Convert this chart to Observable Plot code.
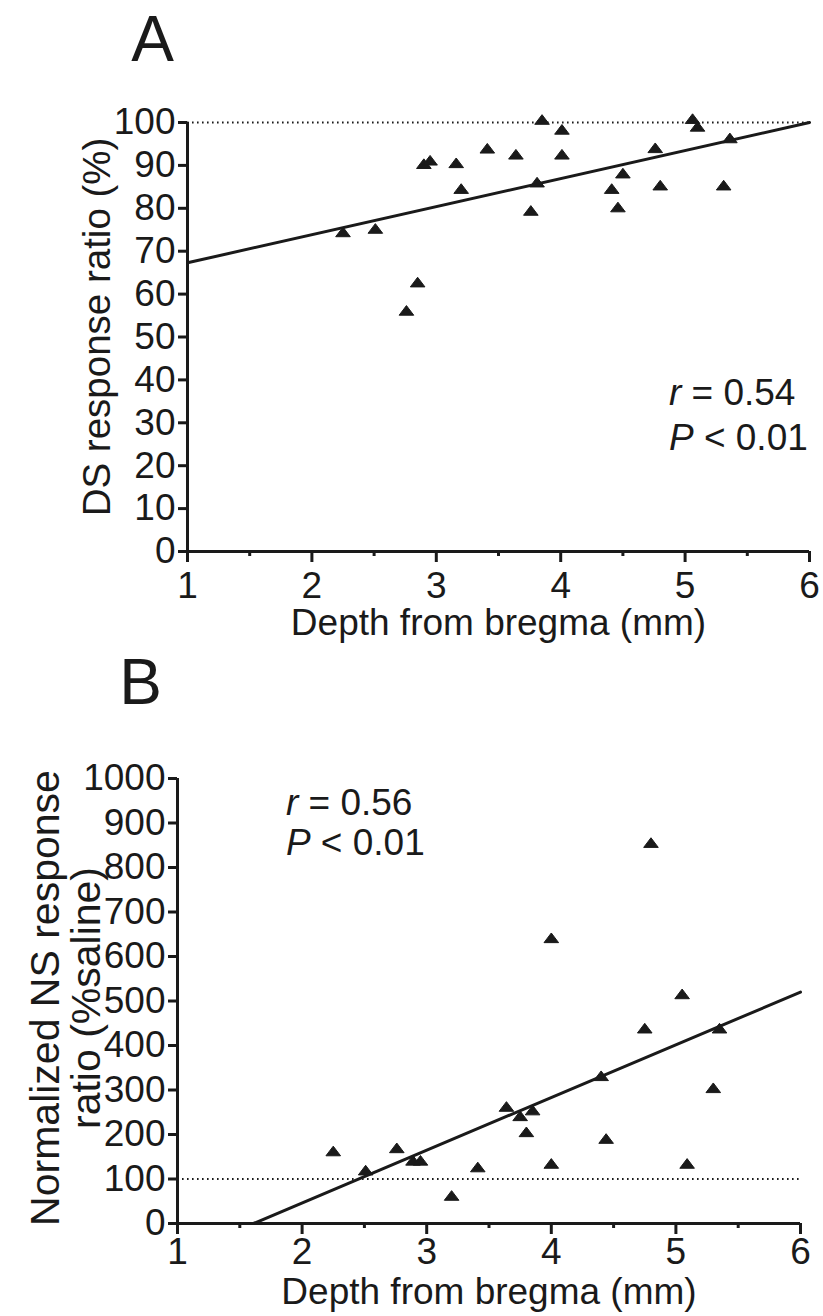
<!DOCTYPE html>
<html>
<head>
<meta charset="utf-8">
<script src="https://cdn.jsdelivr.net/npm/d3@7"></script>
<script src="https://cdn.jsdelivr.net/npm/@observablehq/plot@0.6"></script>
<style>
  html, body { margin: 0; padding: 0; background: #fff; }
  #chart svg { display: block; }
</style>
</head>
<body>
<div id="chart"></div>
<script>
// ---- Panel A data ----
const depthA = [2.25, 2.51, 2.76, 2.85, 2.90, 2.95, 3.16, 3.20, 3.41, 3.64, 3.76, 3.81, 3.85, 4.01, 4.01, 4.41, 4.46, 4.50, 4.76, 4.80, 5.06, 5.10, 5.31, 5.36];
const dsRatio = [74.4, 75.2, 56.1, 62.7, 90.3, 91.1, 90.5, 84.5, 93.9, 92.5, 79.4, 86.0, 100.6, 98.3, 92.5, 84.5, 80.2, 88.1, 94.0, 85.3, 100.8, 99.0, 85.3, 96.3];
const fitAx = [1, 6];
const fitAy = [67.3, 100];
const refA = [100];
const statsA = ["r = 0.54", "P < 0.01"];
const statsAx = [4.87, 4.87];
const statsAy = [37, 26.5];

// ---- Panel B data ----
const depthB = [2.25, 2.51, 2.76, 2.89, 2.95, 3.20, 3.41, 3.64, 3.75, 3.80, 3.85, 4.00, 4.00, 4.40, 4.44, 4.75, 4.80, 5.05, 5.09, 5.30, 5.35];
const nsRatio = [162, 119, 169, 141, 141, 62, 126, 262, 241, 205, 254, 641, 134, 331, 190, 438, 855, 515, 134, 304, 438];
const fitBx = [1.61, 6];
const fitBy = [0, 520];
const refB = [100];
const statsB = ["r = 0.56", "P < 0.01"];
const statsBx = [1.87, 1.87];
const statsBy = [944, 855];

// ---- Ticks & labels ----
const xTicks = [1, 2, 3, 4, 5, 6];
const xMinorTicks = [1.5, 2.5, 3.5, 4.5, 5.5];
const yTicksA = [0, 10, 20, 30, 40, 50, 60, 70, 80, 90, 100];
const yTicksB = [0, 100, 200, 300, 400, 500, 600, 700, 800, 900, 1000];
const xLabel = "Depth from bregma (mm)";
const yLabelA = "DS response ratio (%)";
const yLabelB = "Normalized NS response\nratio (%saline)";
const panelLetters = ["A", "B"];

const ink = "#1a1a1a";
const fontFamily = '"Liberation Sans", Arial, Helvetica, sans-serif';
const fs = 37;

const rowsA = depthA.map((x, i) => ({x, y: dsRatio[i]}));
const rowsB = depthB.map((x, i) => ({x, y: nsRatio[i]}));
const fitA = fitAx.map((x, i) => ({x, y: fitAy[i]}));
const fitB = fitBx.map((x, i) => ({x, y: fitBy[i]}));
const annA = statsA.map((t, i) => ({t, x: statsAx[i], y: statsAy[i]}));
const annB = statsB.map((t, i) => ({t, x: statsBx[i], y: statsBy[i]}));

// flattened triangle symbol
const flatTri = {
  draw(context, size) {
    const r = Math.sqrt(size / Math.PI);
    context.moveTo(0, -0.72 * r);
    context.lineTo(r, 0.6 * r);
    context.lineTo(-r, 0.6 * r);
    context.closePath();
  }
};

function panel({rows, fit, ref, ann, yTicks, yDomain, yLabel, letter, height, mL, mR, mT, mB, letterDx, letterDy, yLabelDx, yLabelDy, yLabelSize, yLabelLH, xLabelDy, xTickPad}) {
  const svg = Plot.plot({
    width: 823,
    height,
    marginLeft: mL,
    marginRight: mR,
    marginTop: mT,
    marginBottom: mB,
    x: {domain: [1, 6]},
    y: {domain: yDomain},
    style: {fontFamily, fontSize: fs + "px", color: ink, background: "#fff", overflow: "visible"},
    marks: [
      Plot.ruleY(ref, {x1: 1, x2: 6, stroke: ink, strokeWidth: 1.8, strokeDasharray: "1.6 3.4"}),
      Plot.line(fit, {x: "x", y: "y", stroke: ink, strokeWidth: 3}),
      Plot.axisY({ticks: yTicks, tickSize: 9, tickPadding: 3, strokeWidth: 3, tickFormat: d3.format("d"), label: null, fontSize: fs, stroke: ink, fill: ink}),
      Plot.axisX({ticks: xTicks, tickSize: 11, tickPadding: xTickPad, strokeWidth: 3, tickFormat: d3.format("d"), label: null, fontSize: fs, stroke: ink, fill: ink}),
      Plot.axisX({ticks: xMinorTicks, tickSize: 5, strokeWidth: 3, tickFormat: () => "", label: null, stroke: ink}),
      Plot.ruleX([yDomain[0]], {x: () => 1, y1: yDomain[0], y2: yDomain[1], stroke: ink, strokeWidth: 3}),
      Plot.ruleY([yDomain[0]], {x1: 1, x2: 6, stroke: ink, strokeWidth: 3}),
      Plot.dot(rows, {x: "x", y: "y", symbol: flatTri, r: 7.3, fill: ink, stroke: ink, strokeWidth: 1, strokeLinejoin: "round"}),
      Plot.text(ann, {x: "x", y: "y", text: "t", textAnchor: "start", lineAnchor: "middle", fontSize: fs, fill: ink}),
      Plot.text([xLabel], {frameAnchor: "bottom", dy: xLabelDy, textAnchor: "middle", lineAnchor: "top", fontSize: fs, fill: ink}),
      Plot.text([yLabel], {frameAnchor: "left", dx: yLabelDx, dy: yLabelDy, rotate: -90, textAnchor: "middle", lineAnchor: "middle", lineHeight: yLabelLH, fontSize: yLabelSize, fill: ink}),
      Plot.text([letter], {frameAnchor: "top-left", dx: letterDx, dy: letterDy, textAnchor: "middle", lineAnchor: "middle", fontSize: 64, fill: ink})
    ]
  });
  // italic statistic symbols (r, P)
  svg.querySelectorAll("text").forEach(t => {
    const s = t.textContent;
    if (statsA.includes(s) || statsB.includes(s)) {
      const first = s[0];
      const rest = s.slice(1);
      t.textContent = "";
      const ns = "http://www.w3.org/2000/svg";
      const a = document.createElementNS(ns, "tspan");
      a.setAttribute("font-style", "italic");
      a.textContent = first;
      const b = document.createElementNS(ns, "tspan");
      b.textContent = rest;
      t.appendChild(a);
      t.appendChild(b);
    }
  });
  return svg;
}

const chart = document.getElementById("chart");
chart.appendChild(panel({
  rows: rowsA, fit: fitA, ref: refA, ann: annA, yTicks: yTicksA, yDomain: [0, 100], yLabel: yLabelA, letter: panelLetters[0],
  height: 640, mL: 187, mR: 14, mT: 122, mB: 89,
  letterDx: -35, letterDy: -82, yLabelDx: -92, yLabelDy: -10, yLabelSize: 38.5, yLabelLH: 1.2, xLabelDy: 57, xTickPad: 9
}));
chart.appendChild(panel({
  rows: rowsB, fit: fitB, ref: refB, ann: annB, yTicks: yTicksB, yDomain: [0, 1000], yLabel: yLabelB, letter: panelLetters[1],
  height: 676, mL: 177, mR: 23, mT: 138, mB: 93,
  letterDx: -37, letterDy: -95, yLabelDx: -111, yLabelDy: -3, yLabelSize: 41, yLabelLH: 1.0, xLabelDy: 54, xTickPad: 3
}));
</script>
</body>
</html>
